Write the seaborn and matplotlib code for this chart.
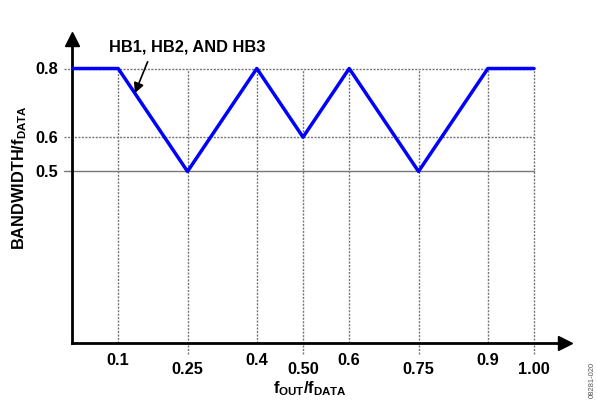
import matplotlib
matplotlib.use("Agg")
import matplotlib.pyplot as plt
import matplotlib.transforms as mtransforms
import seaborn as sns
import pandas as pd

# data
f_out = [0.0, 0.1, 0.25, 0.4, 0.5, 0.6, 0.75, 0.9, 1.0]
bandwidth = [0.8, 0.8, 0.5, 0.8, 0.6, 0.8, 0.5, 0.8, 0.8]
x_ticks_upper = [0.1, 0.4, 0.6, 0.9]
x_labels_upper = ["0.1", "0.4", "0.6", "0.9"]
x_ticks_lower = [0.25, 0.50, 0.75, 1.00]
x_labels_lower = ["0.25", "0.50", "0.75", "1.00"]
y_ticks = [0.5, 0.6, 0.8]
y_labels = ["0.5", "0.6", "0.8"]
series_label = "HB1, HB2, AND HB3"

sns.set_style("white")
plt.rcParams["font.family"] = ["Liberation Sans", "DejaVu Sans"]
plt.rcParams["text.color"] = "black"
plt.rcParams["mathtext.fontset"] = "custom"
plt.rcParams["mathtext.rm"] = "Liberation Sans:bold"
plt.rcParams["mathtext.bf"] = "Liberation Sans:bold"
plt.rcParams["mathtext.it"] = "Liberation Sans:bold"

W, H = 597, 402
fig = plt.figure(figsize=(W / 100, H / 100), dpi=100)
ax = fig.add_axes([72 / W, (H - 344) / H, (565 - 72) / W, (344 - 40) / H])
xmax, ymax = 1.067, 0.886
ax.set_xlim(0, xmax)
ax.set_ylim(0, ymax)

df = pd.DataFrame({"f": f_out, "bw": bandwidth})

grid_kw = dict(color="#777777", lw=1.0, zorder=1, clip_on=False)
top = max(bandwidth)
for xv in x_ticks_upper:
    ax.plot([xv, xv], [0, top], ls=(0, (1.5, 1)), **grid_kw)
for xv in x_ticks_lower:
    ax.plot([xv, xv], [-0.032, top], ls=(0, (1.5, 1)), **grid_kw)
for yv in y_ticks:
    ls = "-" if yv == 0.5 else (0, (1.5, 1))
    ax.plot([-0.018, f_out[-1]], [yv, yv], ls=ls, **grid_kw)

sns.lineplot(data=df, x="f", y="bw", ax=ax, color="#0000ff", lw=2.5,
             zorder=3, legend=False)

for s in ["top", "right"]:
    ax.spines[s].set_visible(False)
for s in ["left", "bottom"]:
    ax.spines[s].set_linewidth(2.0)
    ax.spines[s].set_color("black")
ax.set_xticks([])
ax.set_yticks([])
ax.set_xlabel("")
ax.set_ylabel("")
ax.plot(1, 0, ">", color="black", ms=10, transform=ax.transAxes, clip_on=False)
ax.plot(0, 1, "^", color="black", ms=10, transform=ax.transAxes, clip_on=False)

fs = 11.8
tx = mtransforms.blended_transform_factory(ax.transData, ax.transAxes)
ty = mtransforms.blended_transform_factory(ax.transAxes, ax.transData)
for xv, lab in zip(x_ticks_upper, x_labels_upper):
    ax.text(xv, -0.053, lab, transform=tx, ha="center", va="center",
            fontsize=fs, fontweight="bold")
for xv, lab in zip(x_ticks_lower, x_labels_lower):
    ax.text(xv, -0.083, lab, transform=tx, ha="center", va="center",
            fontsize=fs, fontweight="bold")
for yv, lab in zip(y_ticks, y_labels):
    ax.text(-0.028, yv, lab, transform=ty, ha="right", va="center",
            fontsize=fs, fontweight="bold")

fig.text(310 / W, 1 - 389 / H, r"$\mathrm{f_{OUT}/f_{DATA}}$", ha="center",
         va="center", fontsize=fs)
fig.text(20 / W, 1 - 178 / H, r"$\mathrm{BANDWIDTH/f_{DATA}}$", ha="center",
         va="center", rotation=90, fontsize=fs)

ax.annotate(series_label, xy=(0.136, 0.728), xytext=(0.249, 0.866),
            ha="center", va="center", fontsize=fs, fontweight="bold",
            annotation_clip=False,
            arrowprops=dict(arrowstyle="-|>", color="black", lw=1.2,
                            mutation_scale=15, shrinkA=4, shrinkB=0,
                            relpos=(0.27, 0.0)))

fig.text(592 / W, 1 - 380 / H, "08281-020", rotation=90, ha="center",
         va="center", fontsize=5.5, color="#555555")

fig.savefig("out.png", dpi=100)
